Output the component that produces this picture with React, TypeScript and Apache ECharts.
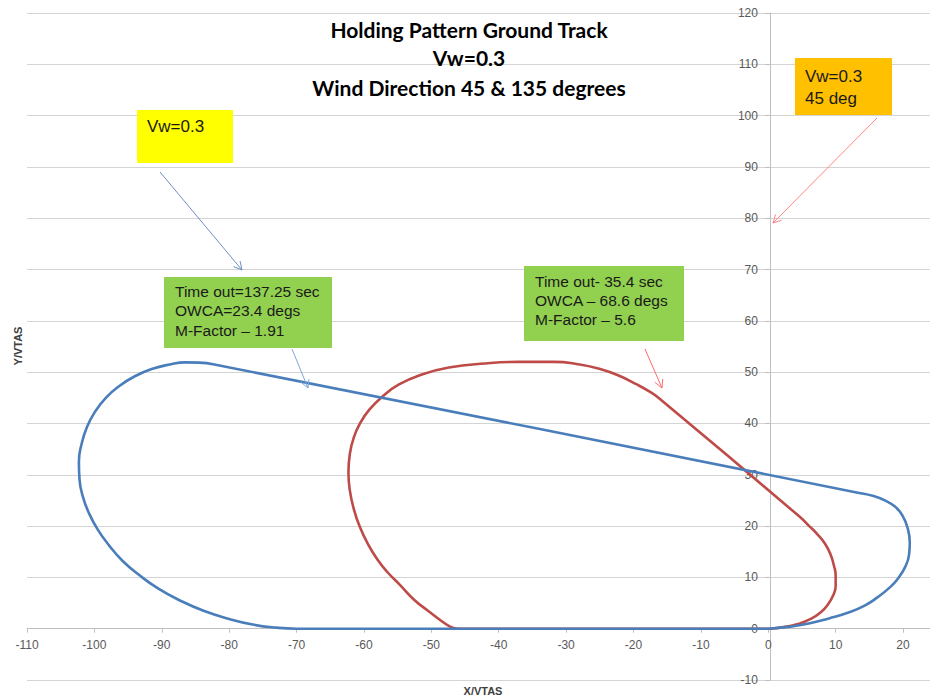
import React, { useEffect, useRef } from "react";
import * as echarts from "echarts";

// Chart title, one entry per line
const titleLines = [
  "Holding Pattern Ground Track",
  "Vw=0.3",
  "Wind Direction 45 & 135 degrees",
];

// Axis ranges (X/VTAS, Y/VTAS)
const xRange = { min: -110, max: 24, step: 10 };
const yRange = { min: -10, max: 120, step: 10 };

// Ground track, wind from 135 deg (blue): [x, y] in VTAS units
const track135: [number, number][] = [
  [0, 0], [3, 0.35], [6, 1], [9, 2], [11.8, 3.1], [14.3, 4.5], [16.3, 6.2],
  [18, 8], [19.2, 9.7], [20.3, 12], [20.9, 14.5], [21, 16.8], [20.7, 19.5],
  [19.9, 22.1], [18.8, 23.8], [17.3, 25], [15.5, 25.9], [13.3, 26.5],
  [-82.2, 51.5], [-84.5, 51.85], [-86.5, 51.9], [-88.8, 51.5], [-91.5, 50.6],
  [-94, 49.2], [-96.3, 47.3], [-98.3, 45], [-99.9, 42.3], [-101.1, 39.3],
  [-101.9, 36], [-102.3, 32.5], [-102.2, 29], [-101.7, 25.7], [-100.8, 22.5],
  [-99.5, 19.3], [-97.8, 16.2], [-95.8, 13.2], [-93.3, 10.4], [-90.5, 7.8],
  [-87.3, 5.5], [-83.8, 3.5], [-80, 1.9], [-76.5, 0.8], [-73, 0.2], [-70, 0],
  [0, 0],
];

// Ground track, wind from 45 deg (red)
const track45: [number, number][] = [
  [-45, 0], [0, 0], [1, 0.1], [2.5, 0.35], [4.4, 0.9], [6.3, 1.9], [7.8, 3.2],
  [8.9, 4.8], [9.6, 6.4], [10, 8.3], [10, 10.3], [9.7, 12.5], [9.2, 14.6],
  [8.4, 16.6], [7.3, 18.4], [6, 20.1], [4.5, 22], [-16.3, 45], [-17.6, 46.2],
  [-19.5, 47.6], [-22.3, 49.4], [-25.2, 50.7], [-28, 51.5], [-31.8, 52],
  [-37, 52], [-42, 51.7], [-47.4, 50.9], [-51.5, 49.5], [-54.8, 47.6],
  [-57.3, 45.2], [-59.2, 42.7], [-60.5, 40.2], [-61.5, 37.3], [-62.1, 34],
  [-62.3, 30.5], [-62.1, 27], [-61.5, 23.3], [-60.6, 19.8], [-59.4, 16.5],
  [-58, 13.5], [-56.5, 11], [-54.7, 8.6], [-52.6, 5.7], [-50.5, 3.5],
  [-48.5, 1.5], [-47.2, 0.4], [-46.3, 0.05], [-45, 0],
];

// Callout texts
const noteWind = "Vw=0.3";
const noteWind45 = "Vw=0.3\n45 deg";
const note135 = "Time out=137.25 sec\nOWCA=23.4 degs\nM-Factor \u2013 1.91";
const note45 = "Time out- 35.4 sec\nOWCA \u2013 68.6 degs\nM-Factor \u2013 5.6";

const BLUE = "#4a7ebb";
const RED = "#be4b48";
const SANS = "'Liberation Sans', Arial, sans-serif";

// Plot area in pixels
const GRID = { left: 27, top: 13, width: 905, height: 667 };

function arrow(x1: number, y1: number, x2: number, y2: number, color: string) {
  const a = Math.atan2(y2 - y1, x2 - x1);
  const len = 9;
  const spread = (28 * Math.PI) / 180;
  return {
    type: "group",
    silent: true,
    z: 100,
    children: [
      {
        type: "line",
        z: 100,
        shape: { x1, y1, x2, y2 },
        style: { stroke: color, lineWidth: 1 },
      },
      {
        type: "polyline",
        z: 100,
        shape: {
          points: [
            [x2 - len * Math.cos(a - spread), y2 - len * Math.sin(a - spread)],
            [x2, y2],
            [x2 - len * Math.cos(a + spread), y2 - len * Math.sin(a + spread)],
          ],
        },
        style: { stroke: color, lineWidth: 1, fill: "none" },
      },
    ],
  };
}

function callout(
  x: number, y: number, w: number, h: number, fill: string,
  text: string, tx: number, ty: number, fontSize: number, lineHeight: number,
) {
  return {
    type: "group",
    silent: true,
    z: 100,
    children: [
      { type: "rect", z: 100, shape: { x, y, width: w, height: h }, style: { fill } },
      {
        type: "text",
        z: 101,
        x: tx,
        y: ty,
        style: {
          text,
          font: `${fontSize}px ${SANS}`,
          fill: "#1a1a1a",
          lineHeight,
          verticalAlign: "top",
        },
      },
    ],
  };
}

export default function App() {
  const ref = useRef<HTMLDivElement>(null);

  useEffect(() => {
    if (!ref.current) return;
    const chart = echarts.init(ref.current, undefined, { renderer: "svg" });

    // Axes cross at the origin: shift each axis from the grid edge to zero
    const yAxisOffset = -((0 - xRange.min) / (xRange.max - xRange.min)) * GRID.width;
    const xAxisOffset = -((0 - yRange.min) / (yRange.max - yRange.min)) * GRID.height;

    const titleY = [29, 57, 87];

    chart.setOption({
      animation: false,
      backgroundColor: "#ffffff",
      grid: { ...GRID, containLabel: false },
      xAxis: {
        type: "value",
        position: "bottom",
        offset: xAxisOffset,
        min: xRange.min,
        max: xRange.max,
        interval: xRange.step,
        axisLine: { onZero: false, lineStyle: { color: "#bfbfbf", width: 1 } },
        axisTick: { show: true, length: 4, lineStyle: { color: "#bfbfbf" } },
        axisLabel: {
          color: "#595959",
          fontSize: 12,
          fontFamily: SANS,
          margin: 10,
          showMaxLabel: false,
        },
        splitLine: { show: false },
      },
      yAxis: {
        type: "value",
        position: "left",
        offset: yAxisOffset,
        min: yRange.min,
        max: yRange.max,
        interval: yRange.step,
        axisLine: { show: true, onZero: false, lineStyle: { color: "#bfbfbf", width: 1 } },
        axisTick: { show: true, length: 5, lineStyle: { color: "#bfbfbf" } },
        axisLabel: { color: "#595959", fontSize: 12, fontFamily: SANS, margin: 12 },
        splitLine: { show: true, lineStyle: { color: "#d4d4d4", width: 1 } },
      },
      series: [
        {
          name: "45 deg",
          type: "line",
          data: track45,
          showSymbol: false,
          smooth: 0.5,
          lineStyle: { color: RED, width: 2.6 },
          z: 2,
        },
        {
          name: "135 deg",
          type: "line",
          data: track135,
          showSymbol: false,
          smooth: 0.5,
          lineStyle: { color: BLUE, width: 2.6 },
          z: 3,
        },
      ],
      graphic: [
        ...titleLines.map((t, i) => ({
          type: "text",
          x: 469,
          y: titleY[i],
          silent: true,
          z: 100,
          style: {
            text: t,
            font: `bold 21px Lato, 'Open Sans', sans-serif`,
            fill: "#000000",
            align: "center",
            verticalAlign: "middle",
          },
        })),
        {
          type: "text",
          x: 483,
          y: 691,
          silent: true,
          z: 100,
          style: {
            text: "X/VTAS",
            font: `bold 11px ${SANS}`,
            fill: "#404040",
            align: "center",
            verticalAlign: "middle",
          },
        },
        {
          type: "text",
          x: 18,
          y: 346,
          rotation: Math.PI / 2,
          silent: true,
          z: 100,
          style: {
            text: "Y/VTAS",
            font: `bold 11px ${SANS}`,
            fill: "#404040",
            align: "center",
            verticalAlign: "middle",
          },
        },
        callout(137, 110, 96, 53, "#ffff00", noteWind, 147, 116, 17, 20),
        callout(795, 58, 97, 57, "#ffc000", noteWind45, 805, 65, 17, 22),
        callout(164, 277, 168, 71, "#92d050", note135, 175, 282, 15.5, 19.3),
        callout(524, 266, 160, 75, "#92d050", note45, 535, 272, 15.5, 19),
        arrow(160, 172, 242, 270, "#6f8fc0"),
        arrow(292, 349, 308, 388, "#7fa7d9"),
        arrow(645, 349, 662, 388, "#ff6b6b"),
        arrow(877, 118, 773, 223, "#ff8585"),
      ],
    });

    return () => chart.dispose();
  }, []);

  return (
    <div
      ref={ref}
      style={{ position: "fixed", left: 0, top: 0, width: 930, height: 698, overflow: "hidden" }}
    />
  );
}
